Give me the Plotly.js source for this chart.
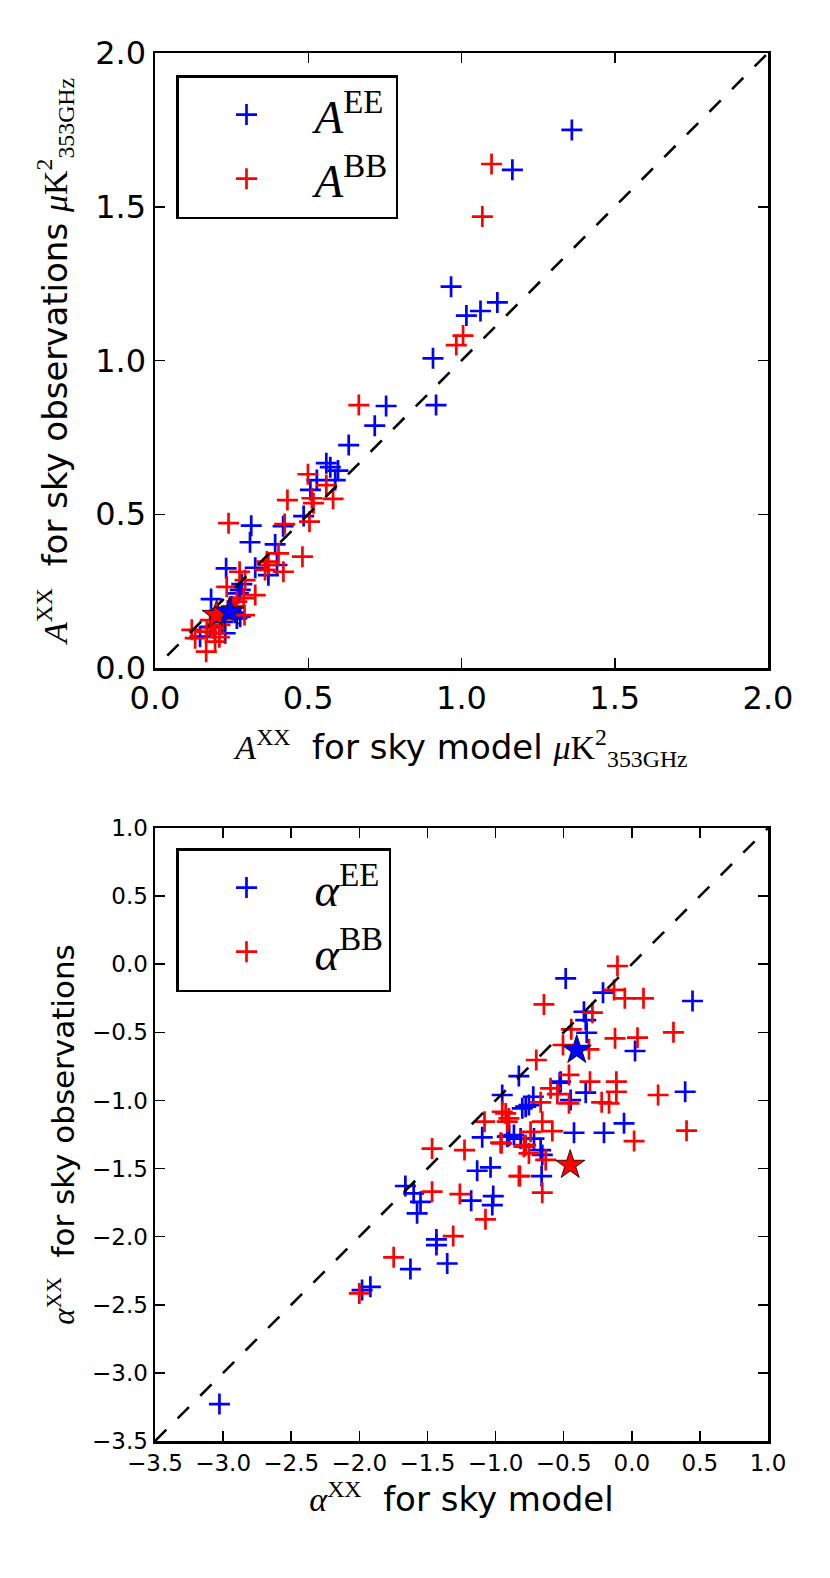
<!DOCTYPE html>
<html>
<head>
<meta charset="utf-8">
<script src="https://cdn.plot.ly/plotly-3.0.1.min.js"></script>
<style>html,body{margin:0;padding:0;background:#fff;}</style>
</head>
<body>
<div id="chart" style="width:830px;height:1578px;"></div>
<script>
// ---------- Top panel: amplitudes A ----------
const ampEE_model = [1.36,1.166,0.966,1.016,1.062,1.117,0.907,0.917,0.754,0.717,0.632,0.559,0.572,0.597,0.528,0.588,0.507,0.485,0.418,0.314,0.310,0.392,0.398,0.370,0.327,0.232,0.283,0.278,0.272,0.183,0.267,0.229,0.147,0.180,0.278,0.25,0.22,0.26];
const ampEE_obs   = [1.75,1.62,1.24,1.146,1.161,1.189,1.007,0.855,0.852,0.788,0.725,0.666,0.653,0.642,0.611,0.611,0.579,0.494,0.461,0.463,0.409,0.402,0.335,0.302,0.326,0.324,0.273,0.254,0.243,0.224,0.161,0.113,0.102,0.134,0.167,0.20,0.15,0.18];
const ampBB_model = [1.098,1.068,1.005,0.983,0.665,0.499,0.559,0.432,0.512,0.517,0.581,0.504,0.423,0.240,0.481,0.403,0.365,0.370,0.359,0.419,0.276,0.294,0.234,0.327,0.289,0.267,0.292,0.120,0.131,0.167,0.196,0.169,0.196,0.212,0.180,0.256,0.22,0.19,0.21];
const ampBB_obs   = [1.639,1.468,1.081,1.050,0.855,0.630,0.595,0.546,0.552,0.536,0.550,0.476,0.468,0.471,0.362,0.373,0.346,0.335,0.319,0.313,0.313,0.286,0.264,0.237,0.227,0.216,0.172,0.124,0.097,0.053,0.086,0.118,0.113,0.140,0.156,0.199,0.16,0.13,0.10];
const ampStarEE = {x:[0.243], y:[0.183]};
const ampStarBB = {x:[0.201], y:[0.172]};
const ampDiag = [0.04, 2.0];
const ampTicks = [0.0,0.5,1.0,1.5,2.0];
const ampTickText = ["0.0","0.5","1.0","1.5","2.0"];

// ---------- Bottom panel: spectral indices alpha ----------
const alphaEE_model = [-3.027,-1.98,-1.919,-1.625,-1.434,-1.434,-1.355,-1.662,-1.601,-1.551,-1.576,-1.179,-1.017,-1.024,-1.135,-1.037,-1.098,-0.951,-0.829,-0.804,-0.90,-0.865,-0.914,-0.816,-0.718,-0.485,-0.211,0.446,-0.351,-0.338,-0.331,0.024,-0.529,-0.338,-0.449,0.392,-0.723,-0.779,-0.755,-0.057,-0.424,-0.204,-0.669,-0.657,-0.662,-0.522];
const alphaEE_obs   = [-3.229,-2.392,-2.368,-2.238,-2.02,-2.062,-2.197,-1.628,-1.682,-1.744,-1.829,-1.736,-1.702,-1.768,-1.516,-1.491,-1.271,-0.960,-0.821,-1.058,-1.26,-1.254,-1.266,-1.28,-1.28,-0.104,-0.209,-0.270,-0.349,-0.41,-0.503,-0.637,-0.87,-0.943,-0.997,-0.936,-0.973,-1.046,-1.034,-1.168,-1.237,-1.237,-1.364,-1.40,-1.555,-0.862];
const alphaBB_model = [-2.0,-1.748,-1.311,-1.074,-1.466,-1.262,-1.466,-1.228,-0.829,-1.081,-0.963,-0.926,-0.914,-0.792,-0.105,-0.130,-0.051,0.086,-0.645,-0.289,-0.444,-0.123,0.042,0.306,-0.505,-0.314,-0.701,-0.461,-0.307,-0.113,-0.113,-0.596,-0.546,-0.461,0.193,-0.221,-0.167,-0.669,-0.951,-0.902,-0.657,0.402,-0.743,-0.583,0.017,-0.956,-0.779,-0.755,-0.632,-0.821,-0.657];
const alphaBB_obs   = [-2.417,-2.152,-1.996,-1.873,-1.67,-1.687,-1.353,-1.364,-1.555,-1.156,-1.31,-1.095,-1.156,-1.34,-0.013,-0.189,-0.25,-0.25,-0.295,-0.356,-0.478,-0.544,-0.539,-0.50,-0.593,-0.625,-0.703,-0.813,-0.862,-0.862,-0.936,-0.911,-0.953,-1.021,-0.96,-1.014,-1.021,-1.014,-1.083,-1.132,-1.156,-1.222,-1.23,-1.225,-1.298,-1.315,-1.328,-1.389,-1.437,-1.555,-1.677];
const alphaStarEE = {x:[-0.404], y:[-0.630]};
const alphaStarBB = {x:[-0.452], y:[-1.474]};
const alphaDiag = [-3.5, 1.0];
const alphaTicks = [-3.5,-3.0,-2.5,-2.0,-1.5,-1.0,-0.5,0.0,0.5,1.0];
const alphaTickText = ["\u22123.5","\u22123.0","\u22122.5","\u22122.0","\u22121.5","\u22121.0","\u22120.5","0.0","0.5","1.0"];

const BLUE = '#0000ff', RED = '#ff0000';
const SERIF = 'Liberation Serif, DejaVu Serif, serif';
const SANS = 'DejaVu Sans, sans-serif';

function crosses(x, y, color, name, xa, ya, leg, grp) {
  return {x:x, y:y, type:'scatter', mode:'markers', name:name, xaxis:xa, yaxis:ya,
    legend:leg, legendgroup:grp,
    marker:{symbol:'cross-thin-open', size:15, color:color, line:{color:color, width:2.7}}};
}
function star(s, color, xa, ya) {
  return {x:s.x, y:s.y, type:'scatter', mode:'markers', showlegend:false, xaxis:xa, yaxis:ya,
    marker:{symbol:'star', size:22, color:color, line:{color:'#000', width:0.8}}};
}
function diag(d, xa, ya) {
  return {x:d, y:d, type:'scatter', mode:'lines', showlegend:false, xaxis:xa, yaxis:ya,
    line:{color:'#000', width:2.6, dash:'16px,16px'}};
}

const traces = [
  crosses(ampEE_model, ampEE_obs, BLUE, '<i>A</i><sup>EE</sup>', 'x', 'y', 'legend', 'a'),
  crosses(ampBB_model, ampBB_obs, RED, '<i>A</i><sup>BB</sup>', 'x', 'y', 'legend', 'b'),
  diag(ampDiag, 'x', 'y'),
  star(ampStarBB, RED, 'x', 'y'),
  star(ampStarEE, BLUE, 'x', 'y'),
  crosses(alphaEE_model, alphaEE_obs, BLUE, '<i>\u03b1</i><sup>EE</sup>', 'x2', 'y2', 'legend2', 'c'),
  crosses(alphaBB_model, alphaBB_obs, RED, '<i>\u03b1</i><sup>BB</sup>', 'x2', 'y2', 'legend2', 'd'),
  diag(alphaDiag, 'x2', 'y2'),
  star(alphaStarBB, RED, 'x2', 'y2'),
  star(alphaStarEE, BLUE, 'x2', 'y2')
];

const axBase = {
  showgrid:false, zeroline:false, showline:true, linecolor:'#000', linewidth:2.5,
  mirror:'ticks', ticks:'inside', ticklen:10, tickwidth:1.5, tickcolor:'#000',
  tickmode:'array', fixedrange:true
};

const legBase = {
  bgcolor:'#fff', bordercolor:'#000', borderwidth:2.5,
  font:{family:SERIF, size:47, color:'#000'},
  xanchor:'left', yanchor:'top', traceorder:'grouped', tracegroupgap:0,
  itemwidth:126
};

const TSIZE = 34;
const layout = {
  width:830, height:1578,
  margin:{l:0, r:0, t:0, b:0},
  paper_bgcolor:'#fff', plot_bgcolor:'#fff',
  showlegend:true,
  xaxis: Object.assign({}, axBase, {
    domain:[155/830, 768/830], range:[0,2], anchor:'y',
    tickvals:ampTicks, ticktext:ampTickText,
    tickfont:{family:SANS, size:32, color:'#000'},
    title:{text:"<span style='font-family:Liberation Serif'><i>A</i><sup>XX</sup></span>  for sky model <span style='font-family:Liberation Serif'><i>\u03bc</i>K<sup>2</sup><sub>353GHz</sub></span>",
      font:{family:SANS, size:TSIZE, color:'#000'}, standoff:20}
  }),
  yaxis: Object.assign({}, axBase, {
    domain:[1-668/1578, 1-53/1578], range:[0,2], anchor:'x',
    tickvals:ampTicks, ticktext:ampTickText,
    tickfont:{family:SANS, size:32, color:'#000'},
    title:{text:"<span style='font-family:Liberation Serif'><i>A</i><sup>XX</sup></span>  for sky observations <span style='font-family:Liberation Serif'><i>\u03bc</i>K<sup>2</sup><sub>353GHz</sub></span>",
      font:{family:SANS, size:TSIZE, color:'#000'}, standoff:18}
  }),
  xaxis2: Object.assign({}, axBase, {
    domain:[155/830, 768/830], range:[-3.5,1], anchor:'y2',
    tickvals:alphaTicks, ticktext:alphaTickText,
    tickfont:{family:SANS, size:23, color:'#000'},
    title:{text:"<span style='font-family:Liberation Serif'><i>\u03b1</i><sup>XX</sup></span>  for sky model",
      font:{family:SANS, size:TSIZE, color:'#000'}, standoff:12}
  }),
  yaxis2: Object.assign({}, axBase, {
    domain:[1-1441/1578, 1-828/1578], range:[-3.5,1], anchor:'x2',
    tickvals:alphaTicks, ticktext:alphaTickText,
    tickfont:{family:SANS, size:23, color:'#000'},
    title:{text:"<span style='font-family:Liberation Serif'><i>\u03b1</i><sup>XX</sup></span>  for sky observations",
      font:{family:SANS, size:31, color:'#000'}, standoff:8}
  }),
  legend: Object.assign({}, legBase, {x:176/830, y:1-75/1578}),
  legend2: Object.assign({}, legBase, {x:176/830, y:1-848/1578})
};

Plotly.newPlot('chart', traces, layout, {staticPlot:true, displayModeBar:false});
</script>
</body>
</html>
